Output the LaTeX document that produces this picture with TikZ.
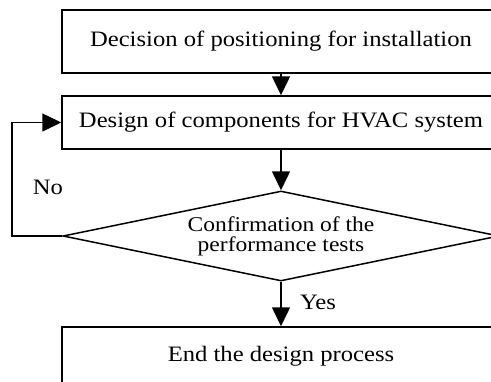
\documentclass[tikz,border=0pt]{standalone}
\usepackage{fontspec}
\setmainfont{Liberation Serif}[FakeStretch=1.12]
\usetikzlibrary{shapes.geometric,arrows.meta}
\begin{document}
\begin{tikzpicture}[x=1pt,y=-1pt,
  line width=1.5pt,
  boxnode/.style={draw, rectangle, minimum width=438pt, inner sep=0pt, font=\fontsize{22}{24}\selectfont},
  decnode/.style={draw, diamond, minimum width=436pt, minimum height=90pt, inner sep=0pt, aspect=4.84, align=center, font=\fontsize{21}{20}\selectfont},
  lbl/.style={font=\fontsize{22}{24}\selectfont, inner sep=0pt},
  flow/.style={-{Triangle[width=18pt,length=19pt]}}
]
\useasboundingbox (0,0) rectangle (491,381);
\clip (0,0) rectangle (491,381);
\node[boxnode, minimum height=63pt] (b1) at (281,41.5) {Decision of positioning for installation};
\node[boxnode, minimum height=53pt] (b2) at (281,122.5) {Design of components for HVAC system};
\node[decnode] (d) at (281,236) {Confirmation of the\\performance tests};
\node[boxnode, minimum height=58pt] (b3) at (281,356) {End the design process};
\coordinate (c1) at (12,236);
\coordinate (c2) at (12,122.5);
\draw[flow] (b1.south) -- (b2.north);
\draw[flow] (b2.south) -- (d.north);
\draw[flow] (d.south) -- (b3.north);
\draw[flow] (d.west) -- (c1) -- (c2) -- (b2.west);
\node[lbl] (no) at (48,187) {No};
\node[lbl] (yes) at (318,302) {Yes};
\end{tikzpicture}
\end{document}
